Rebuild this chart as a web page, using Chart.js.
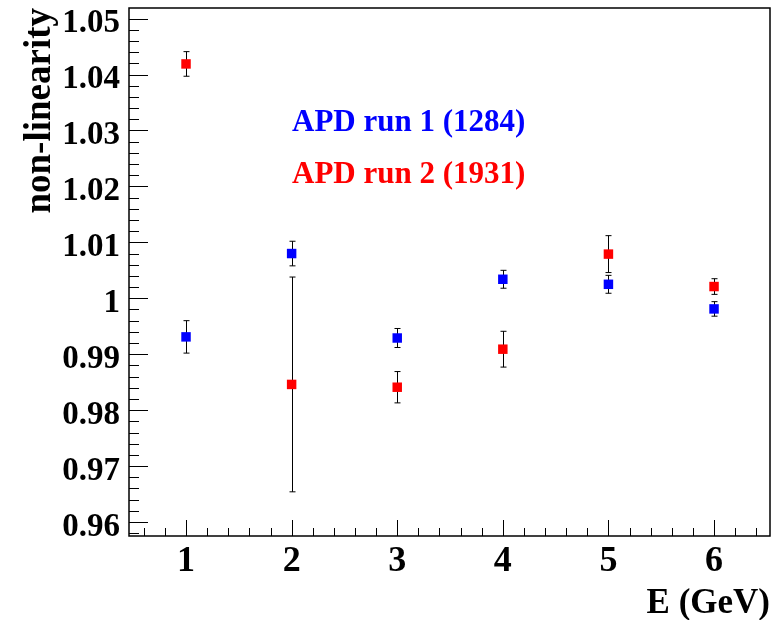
<!DOCTYPE html>
<html>
<head>
<meta charset="utf-8">
<script src="https://cdn.jsdelivr.net/npm/chart.js@4.4.1/dist/chart.umd.min.js"></script>
<style>
  html, body { margin: 0; padding: 0; background: #fff; }
  #wrap { width: 772px; height: 620px; }
</style>
</head>
<body>
<div id="wrap"><canvas id="nonlin"></canvas></div>
<script>
const energies = [1, 2, 3, 4, 5, 6];
const run1 = [0.9931, 1.0080, 0.9929, 1.0034, 1.0025, 0.9981];
const run1Err = [0.0029, 0.0022, 0.0017, 0.0016, 0.0016, 0.0013];
const run2 = [1.0419, 0.9846, 0.9841, 0.9909, 1.0079, 1.0021];
const run2Err = [0.0022, 0.0192, 0.0028, 0.0032, 0.0033, 0.0014];
const runLabels = ['APD run 1 (1284)', 'APD run 2 (1931)'];
const runColors = ['#0000ff', '#ff0000'];

const serif = "'Liberation Serif', 'Times New Roman', serif";

function points(ys) {
  return energies.map((e, i) => ({ x: e, y: ys[i] }));
}

// keep the plot frame fixed: no extra room for overhanging tick labels
function fixBox(size) {
  return s => {
    if (s.isHorizontal()) s.height = size; else s.width = size;
    s.paddingTop = s.paddingBottom = s.paddingLeft = s.paddingRight = 0;
  };
}

// error bars, inward ticks, the closed frame and the run labels
const rootStyle = {
  id: 'rootStyle',
  beforeDatasetsDraw(chart) {
    const { ctx, scales: { x, y } } = chart;
    ctx.save();
    ctx.strokeStyle = '#000';
    ctx.lineWidth = 1;
    [[run1, run1Err], [run2, run2Err]].forEach(([vals, errs]) => {
      vals.forEach((v, i) => {
        const px = Math.round(x.getPixelForValue(energies[i])) + 0.5;
        const top = y.getPixelForValue(v + errs[i]);
        const bot = y.getPixelForValue(v - errs[i]);
        ctx.beginPath();
        ctx.moveTo(px, top); ctx.lineTo(px, bot);
        ctx.moveTo(px - 3, top); ctx.lineTo(px + 3, top);
        ctx.moveTo(px - 3, bot); ctx.lineTo(px + 3, bot);
        ctx.stroke();
      });
    });
    ctx.restore();
  },
  afterDraw(chart) {
    const { ctx, chartArea: a, scales: { x, y } } = chart;
    ctx.save();
    ctx.strokeStyle = '#000';
    ctx.lineWidth = 1;
    ctx.beginPath();
    // y ticks every 0.002, long ones on the labelled values
    for (let k = 479; k <= 525; k++) {
      const v = k * 0.002;
      if (v < y.min || v > y.max) continue;
      const py = Math.round(y.getPixelForValue(v)) + 0.5;
      const len = k % 5 === 0 ? 19 : 10;
      ctx.moveTo(a.left, py); ctx.lineTo(a.left + len, py);
    }
    // x ticks every 0.2
    for (let k = 2; k <= 33; k++) {
      const v = k * 0.2;
      if (v < x.min || v > x.max) continue;
      const px = Math.round(x.getPixelForValue(v)) + 0.5;
      const len = k % 5 === 0 ? 16 : 8;
      ctx.moveTo(px, a.bottom); ctx.lineTo(px, a.bottom - len);
    }
    ctx.stroke();
    ctx.lineWidth = 1.5;
    ctx.strokeRect(a.left, a.top, a.right - a.left, a.bottom - a.top);

    ctx.font = 'bold 31px ' + serif;
    ctx.textAlign = 'left';
    ctx.textBaseline = 'alphabetic';
    runLabels.forEach((txt, i) => {
      ctx.fillStyle = runColors[i];
      ctx.fillText(txt, a.left + 163, a.top + 123 + i * 52);
    });
    ctx.restore();
  }
};

new Chart(document.getElementById('nonlin'), {
  type: 'scatter',
  data: {
    datasets: [
      {
        label: runLabels[0],
        data: points(run1),
        backgroundColor: runColors[0],
        borderWidth: 0,
        pointStyle: 'rect',
        pointRadius: 6.7
      },
      {
        label: runLabels[1],
        data: points(run2),
        backgroundColor: runColors[1],
        borderWidth: 0,
        pointStyle: 'rect',
        pointRadius: 6.7
      }
    ]
  },
  options: {
    responsive: true,
    maintainAspectRatio: false,
    animation: false,
    layout: { autoPadding: false, padding: { top: 8, right: 2, left: 0, bottom: 0 } },
    plugins: {
      legend: { display: false },
      tooltip: { enabled: false }
    },
    scales: {
      x: {
        type: 'linear',
        min: 0.46,
        max: 6.53,
        afterFit: fixBox(84),
        grid: { display: false, drawTicks: false },
        border: { display: false },
        ticks: {
          stepSize: 1,
          includeBounds: false,
          autoSkip: false,
          padding: 4,
          color: '#000',
          font: { family: serif, size: 36, weight: 'bold' },
          callback: v => String(v)
        },
        title: {
          display: true,
          text: 'E (GeV)',
          align: 'end',
          color: '#000',
          padding: { bottom: 0, top: 0 },
          font: { family: serif, size: 35, weight: 'bold', lineHeight: 0.9 }
        }
      },
      y: {
        min: 0.9575,
        max: 1.0519,
        afterFit: fixBox(129),
        grid: { display: false, drawTicks: false },
        border: { display: false },
        ticks: {
          stepSize: 0.01,
          includeBounds: false,
          autoSkip: false,
          padding: 9,
          labelOffset: 5,
          color: '#000',
          font: { family: serif, size: 33, weight: 'bold' },
          callback: v => String(parseFloat(v.toFixed(2)))
        },
        title: {
          display: true,
          text: 'non-linearity',
          align: 'end',
          color: '#000',
          padding: { top: 18, bottom: 0 },
          font: { family: serif, size: 37, weight: 'bold' }
        }
      }
    }
  },
  plugins: [rootStyle]
});
</script>
</body>
</html>
